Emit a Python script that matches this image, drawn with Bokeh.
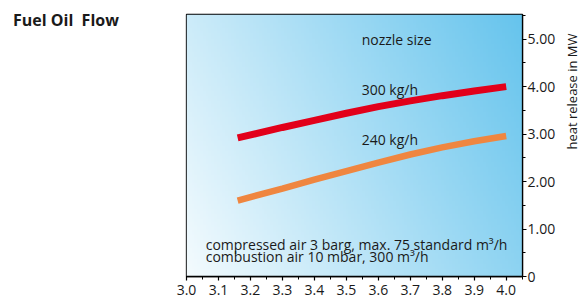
import numpy as np
from bokeh.plotting import figure
from bokeh.models import Range1d, LinearAxis, FixedTicker, Label, Div
from bokeh.layouts import row
from bokeh.embed import file_html
from bokeh.resources import INLINE

# ---- data ----
x_300 = [3.16, 3.3, 3.4, 3.5, 3.6, 3.7, 3.8, 3.9, 4.0]
y_300 = [2.92, 3.14, 3.29, 3.44, 3.58, 3.70, 3.81, 3.91, 4.00]
x_240 = [3.16, 3.3, 3.4, 3.5, 3.6, 3.7, 3.8, 3.9, 4.0]
y_240 = [1.60, 1.85, 2.04, 2.22, 2.40, 2.57, 2.72, 2.85, 2.96]

x_ticks = [3.0, 3.1, 3.2, 3.3, 3.4, 3.5, 3.6, 3.7, 3.8, 3.9, 4.0]
x_tick_labels = ["3.0", "3.1", "3.2", "3.3", "3.4", "3.5", "3.6", "3.7", "3.8", "3.9", "4.0"]
y_ticks = [0, 1, 2, 3, 4, 5]
y_tick_labels = ["0", "1.00", "2.00", "3.00", "4.00", "5.00"]

title_text = "Fuel Oil  Flow"
y_label_text = "heat release in MW"
nozzle_text = "nozzle size"
label_300 = "300 kg/h"
label_240 = "240 kg/h"
note_1 = "compressed air 3 barg, max. 75  standard m\u00b3/h"
note_2 = "combustion air 10 mbar, 300 m\u00b3/h"

FONT = "Open Sans"
TXT = "#1a1a1a"

X0, X1 = 3.0, 4.051
Y0, Y1 = 0.0, 5.52

DIV_W = 120
H = 298

p = figure(frame_width=336, frame_height=262, output_backend="svg",
           toolbar_location=None, x_range=Range1d(X0, X1), y_range=Range1d(Y0, Y1),
           min_border_left=186 - DIV_W, min_border_top=14, min_border_right=34,
           min_border_bottom=22, x_axis_location=None, y_axis_location=None)
p.title.visible = False
p.grid.visible = False
p.outline_line_color = "black"
p.outline_line_width = 1.3
p.background_fill_color = "white"
p.border_fill_color = "white"

# ---- gradient background ----
nx, ny = 120, 100
u = np.linspace(0, 1, nx)[None, :]
v = np.linspace(0, 1, ny)[:, None]
t = np.clip(0.72 * u + 0.28 * v, 0, 1)
c0 = np.array([0xf4, 0xfb, 0xfe], dtype=float)
c1 = np.array([0x66, 0xc4, 0xed], dtype=float)
img = np.zeros((ny, nx), dtype=np.uint32)
view = img.view(dtype=np.uint8).reshape((ny, nx, 4))
for k in range(3):
    view[:, :, k] = (c0[k] + (c1[k] - c0[k]) * t).astype(np.uint8)
view[:, :, 3] = 255
p.image_rgba(image=[img], x=X0, y=Y0, dw=X1 - X0, dh=Y1 - Y0, level="image")

# ---- curves ----
p.line(x_300, y_300, line_color="#e2001a", line_width=7)
p.line(x_240, y_240, line_color="#ef8640", line_width=6.5)

# ---- axes ----
xa = LinearAxis(ticker=FixedTicker(ticks=x_ticks,
                minor_ticks=[round(3.0 + 0.05 * i, 2) for i in range(22)]))
xa.major_label_overrides = dict(zip(x_ticks, x_tick_labels))
yaxis = LinearAxis(ticker=FixedTicker(ticks=y_ticks,
                   minor_ticks=[0.5 * i for i in range(12)]))
yaxis.major_label_overrides = dict(zip(y_ticks, y_tick_labels))
for ax in (xa, yaxis):
    ax.axis_line_color = "black"
    ax.axis_line_width = 1.3
    ax.major_tick_line_color = "black"
    ax.minor_tick_line_color = "black"
    ax.major_tick_line_width = 1.2
    ax.minor_tick_line_width = 1.0
    ax.major_tick_in = 0
    ax.minor_tick_in = 0
    ax.major_tick_out = 4
    ax.minor_tick_out = 3
    ax.major_label_text_font = FONT
    ax.major_label_text_font_size = "14px"
    ax.major_label_text_color = TXT
xa.major_label_standoff = 4
yaxis.major_label_standoff = 1
p.add_layout(xa, "below")
p.add_layout(yaxis, "right")

# ---- texts ----
def lab(fig, x, y, text, size="14px", align="left", baseline="middle", style="normal", angle=0):
    fig.add_layout(Label(x=x, y=y, text=text, text_font=FONT, text_font_size=size,
                         text_color=TXT, text_align=align, text_baseline=baseline,
                         text_font_style=style, angle=angle))

lab(p, 3.548, 5.0, nozzle_text)
lab(p, 3.548, 3.94, label_300)
lab(p, 3.548, 2.885, label_240)
lab(p, 3.06, 0.677, note_1, baseline="alphabetic")
lab(p, 3.06, 0.416, note_2, baseline="alphabetic")

# ---- side strip holding the rotated y-axis title ----
LW = 26
q = figure(frame_width=LW, frame_height=H, output_backend="svg", toolbar_location=None,
           x_range=Range1d(0, LW), y_range=Range1d(0, H), min_border=0,
           x_axis_location=None, y_axis_location=None)
q.title.visible = False
q.grid.visible = False
q.outline_line_color = None
q.background_fill_color = "white"
q.border_fill_color = "white"
lab(q, 13, H - 77, y_label_text, size="13px", align="center", angle=np.pi / 2)

title_div = Div(text=title_text, width=DIV_W, height=40, margin=(0, 0, 0, 0),
                styles={"font-family": "'Open Sans'", "font-size": "16px",
                        "font-weight": "bold", "color": TXT, "white-space": "pre",
                        "padding-left": "13px", "padding-top": "9px",
                        "line-height": "22px"})

layout = row(title_div, p, q, spacing=0)
open("out.html", "w").write(file_html(layout, INLINE))
